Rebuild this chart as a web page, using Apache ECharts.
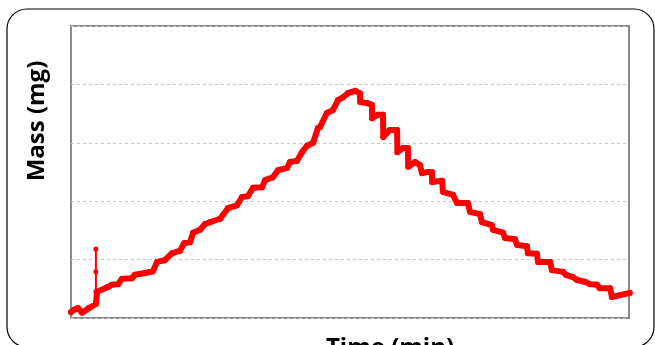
<!DOCTYPE html>
<html>
<head>
<meta charset="utf-8">
<script src="https://cdn.jsdelivr.net/npm/echarts@6/dist/echarts.min.js"></script>
<style>
	html, body { margin: 0; padding: 0; background: #fff; }
	#chart { width: 655px; height: 345px; }
</style>
</head>
<body>
<div id="chart"></div>
<script>
// time (min) and mass (mg)
var timeMin = [0, 1.0, 2.3, 3.7, 6.0, 8.3,
	8.7, 12.3, 13.7, 15.7, 17.0, 20.3, 21.3, 24.7, 27.3, 28.7, 31.3, 33.7, 36.3, 37.7, 39.7,
	40.7, 43.0, 44.7, 46.3, 49.7, 52.3, 55.3, 57.0, 59.0, 60.7, 63.7, 64.7, 67.3, 69.0, 72.0,
	73.0, 75.3, 77.0, 78.7, 80.7, 82.3, 83.0, 85.3, 87.3, 89.0, 90.7, 92.3, 94.7, 96.3,
	96.4, 98.7, 100.3, 100.4, 102.3, 104.0, 104.1, 106.3, 108.7, 108.8, 110.7, 112.3, 112.4,
	114.7, 116.3, 117.0, 119.0, 120.3, 120.4, 123.7, 124.0, 127.3, 128.7, 132.3, 133.0,
	136.3, 137.0, 140.3, 140.7, 144.0, 144.7, 148.0, 148.7, 152.0, 152.3, 155.3, 155.7,
	159.7, 160.3, 164.0, 165.0, 167.3, 168.7, 171.3, 173.0, 175.3, 176.3, 179.7, 180.3, 186.3];
var massMg = [0.10, 0.14, 0.17, 0.09, 0.17, 0.24,
	0.45, 0.53, 0.57, 0.58, 0.67, 0.68, 0.74, 0.77, 0.80, 0.96, 0.99, 1.11, 1.15, 1.28, 1.30,
	1.46, 1.51, 1.61, 1.64, 1.70, 1.88, 1.93, 2.07, 2.09, 2.23, 2.24, 2.36, 2.41, 2.53, 2.57,
	2.67, 2.69, 2.84, 2.95, 3.00, 3.25, 3.27, 3.51, 3.56, 3.73, 3.78, 3.85, 3.89, 3.85,
	3.70, 3.68, 3.65, 3.42, 3.48, 3.48, 3.10, 3.22, 3.22, 2.84, 2.91, 2.91, 2.59,
	2.67, 2.62, 2.48, 2.50, 2.50, 2.33, 2.35, 2.16, 2.11, 1.97, 1.97, 1.82,
	1.78, 1.64, 1.59, 1.51, 1.46, 1.37, 1.35, 1.25, 1.23, 1.11, 1.10, 0.96,
	0.96, 0.82, 0.79, 0.74, 0.70, 0.65, 0.62, 0.58, 0.57, 0.51, 0.51, 0.36, 0.43];

// the short spike near the start
var spikeTime = [8.3, 8.3, 8.3, 8.3];
var spikeMass = [0.24, 0.45, 0.79, 1.18];

var yTicks = [0, 1, 2, 3, 4, 5];

function pairs(xs, ys) {
	var out = [];
	for (var i = 0; i < xs.length; i++) {
		out.push([xs[i], ys[i]]);
	}
	return out;
}

var myChart = echarts.init(document.getElementById('chart'), null, {renderer: 'canvas'});
myChart.setOption({
	animation: false,
	grid: {
		left: 71, right: 26, top: 26, bottom: 27,
		show: true,
		borderColor: '#8a8a8a',
		borderWidth: 2,
		backgroundColor: 'transparent'
	},
	xAxis: {
		type: 'value',
		min: 0,
		max: 186,
		axisLine: { show: false },
		axisTick: { show: false },
		axisLabel: { show: false },
		splitLine: { show: false }
	},
	yAxis: {
		type: 'value',
		min: yTicks[0],
		max: yTicks[yTicks.length - 1],
		interval: 1,
		axisLine: { show: false },
		axisTick: { show: false },
		axisLabel: { show: false },
		splitLine: { show: true, lineStyle: { color: '#c8c8c8', type: [3, 3], width: 1 } }
	},
	graphic: [
		{
			type: 'rect',
			shape: { x: 7, y: 9, width: 647, height: 338, r: 20 },
			style: { fill: 'none', stroke: '#000', lineWidth: 1.2 },
			silent: true
		},
		{
			type: 'text',
			x: 37, y: 121,
			rotation: Math.PI / 2,
			style: {
				text: 'Mass (mg)',
				font: 'bold 24px "Open Sans", sans-serif',
				fill: '#000',
				align: 'center',
				verticalAlign: 'middle'
			}
		},
		{
			type: 'text',
			x: 390, y: 336,
			style: {
				text: 'Time (min)',
				font: 'bold 24px "Open Sans", sans-serif',
				fill: '#000',
				align: 'center',
				verticalAlign: 'top'
			}
		}
	],
	series: [
		{
			type: 'line',
			data: pairs(spikeTime, spikeMass),
			lineStyle: { color: '#ff0000', width: 2 },
			itemStyle: { color: '#ff0000' },
			symbol: 'circle',
			symbolSize: 5,
			z: 3
		},
		{
			type: 'line',
			data: pairs(timeMin, massMg),
			lineStyle: { color: '#ff0000', width: 6, join: 'round', cap: 'round' },
			itemStyle: { color: '#ff0000' },
			symbol: 'circle',
			symbolSize: 6,
			showAllSymbol: true,
			clip: false,
			z: 4
		}
	]
});
</script>
</body>
</html>
